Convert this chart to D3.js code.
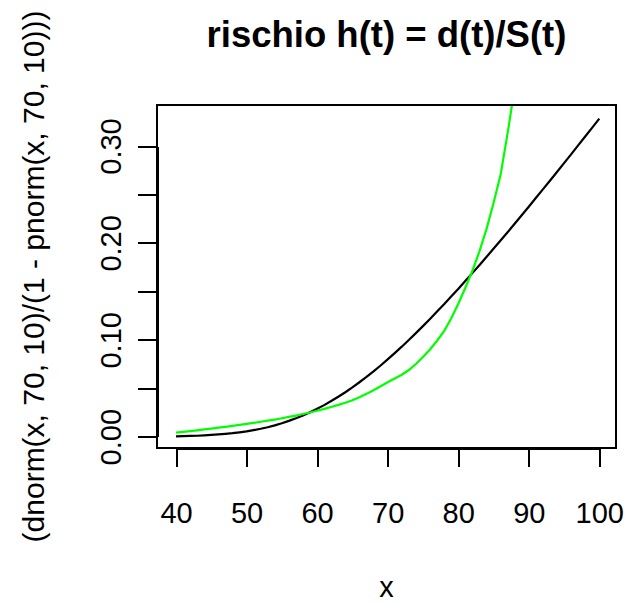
<!DOCTYPE html>
<html>
<head>
<meta charset="utf-8">
<script src="https://cdn.jsdelivr.net/npm/d3@7"></script>
<style>
  html, body { margin: 0; padding: 0; background: #fff; }
  svg { display: block; font-family: "Liberation Sans", Arial, Helvetica, sans-serif; }
</style>
</head>
<body>
<svg id="chart" width="639" height="603"></svg>
<script>
// ---- data ----
const xBlack = [40,41,42,43,44,45,46,47,48,49,50,51,52,53,54,55,56,57,58,59,60,61,62,63,64,65,66,67,68,69,70,
                71,72,73,74,75,76,77,78,79,80,81,82,83,84,85,86,87,88,89,90,91,92,93,94,95,96,97,98,99,100];
const hBlack = [0.0004,0.0006,0.0008,0.0010,0.0014,0.0018,0.0023,0.0029,0.0036,0.0045,0.0055,0.0068,0.0082,0.0098,0.0117,0.0139,
                0.0163,0.0190,0.0219,0.0252,0.0288,0.0326,0.0368,0.0412,0.0459,0.0509,0.0562,0.0617,0.0675,0.0735,0.0798,
                0.0863,0.0929,0.0998,0.1069,0.1141,0.1215,0.1291,0.1367,0.1446,0.1525,0.1606,0.1688,0.1770,0.1854,0.1939,
                0.2024,0.2110,0.2197,0.2285,0.2373,0.2463,0.2552,0.2642,0.2731,0.2823,0.2914,0.3006,0.3098,0.3190,0.3283];
const xGreen = [40,41,42,43,44,45,46,47,48,49,50,51,52,53,54,55,56,57,58,59,60,61,62,63,64,65,66,67,68,69,70,
                71,72,73,74,75,76,77,78,79,80,81,82,83,84,85,86,87,88];
const hGreen = [0.0042,0.0050,0.0058,0.0066,0.0075,0.0084,0.0093,0.0102,0.0112,0.0122,0.0132,0.0143,0.0154,0.0165,0.0177,0.0190,
                0.0204,0.0218,0.0234,0.0250,0.0268,0.0287,0.0307,0.0328,0.0350,0.0377,0.0408,0.0442,0.0480,0.0520,0.0562,
                0.0600,0.0640,0.0688,0.0750,0.0822,0.0900,0.0990,0.1090,0.1220,0.1370,0.1535,0.1710,0.1910,0.2140,0.2410,
                0.2700,0.3130,0.3600];
const xTicks = [40,50,60,70,80,90,100];
const yTicks = [0,0.05,0.10,0.15,0.20,0.25,0.30];
const yLabelTicks = [0,0.10,0.20,0.30];
const titleText = "rischio h(t) = d(t)/S(t)";
const xTitle = "x";
const yTitle = "(dnorm(x, 70, 10)/(1 - pnorm(x, 70, 10)))";

// ---- layout ----
const box = {left: 157, right: 616, top: 105, bottom: 448};
const fs = 29;
const svg = d3.select("#chart");

const x = d3.scaleLinear().domain([40, 100]).range([176, 599.3]);
const y = d3.scaleLinear().domain([0, 0.30]).range([436.7, 146]);

// clip path for plot region
svg.append("defs").append("clipPath").attr("id", "plotclip")
  .append("rect").attr("x", box.left).attr("y", box.top)
  .attr("width", box.right - box.left).attr("height", box.bottom - box.top);

// curves
const line = d3.line().x(d => x(d[0])).y(d => y(d[1]));
const g = svg.append("g").attr("clip-path", "url(#plotclip)");
g.append("path")
  .attr("d", line(xBlack.map((v, i) => [v, hBlack[i]])))
  .attr("fill", "none").attr("stroke", "#000").attr("stroke-width", 2.2);
g.append("path")
  .attr("d", line(xGreen.map((v, i) => [v, hGreen[i]])))
  .attr("fill", "none").attr("stroke", "#00ff00").attr("stroke-width", 2.2);

// box
svg.append("rect")
  .attr("x", box.left).attr("y", box.top)
  .attr("width", box.right - box.left).attr("height", box.bottom - box.top)
  .attr("fill", "none").attr("stroke", "#000").attr("stroke-width", 2)
  .attr("shape-rendering", "crispEdges");

// x axis
const xAxis = svg.append("g").attr("transform", `translate(0,${box.bottom})`)
  .call(d3.axisBottom(x).tickValues(xTicks).tickSize(19).tickSizeOuter(0).tickPadding(35.9).tickFormat(d3.format("d")));
xAxis.selectAll("path, line").attr("stroke", "#000").attr("stroke-width", 2).attr("shape-rendering", "crispEdges");
xAxis.selectAll("text").attr("font-size", fs).attr("fill", "#000")
  .attr("font-family", "'Liberation Sans', Arial, sans-serif");

// y axis
const yAxis = svg.append("g").attr("transform", `translate(${box.left},0)`)
  .call(d3.axisLeft(y).tickValues(yTicks).tickSize(19).tickSizeOuter(0)
    .tickFormat(d => yLabelTicks.some(v => Math.abs(v - d) < 1e-9) ? d3.format(".2f")(d) : ""));
yAxis.selectAll("path, line").attr("stroke", "#000").attr("stroke-width", 2).attr("shape-rendering", "crispEdges");
yAxis.selectAll("text")
  .attr("x", null).attr("dy", null)
  .attr("transform", "translate(-36.5,0) rotate(-90)")
  .attr("text-anchor", "middle")
  .attr("font-size", fs).attr("fill", "#000")
  .attr("font-family", "'Liberation Sans', Arial, sans-serif");

// titles
svg.append("text").attr("x", (box.left + box.right) / 2).attr("y", 47)
  .attr("text-anchor", "middle").attr("font-size", 36.5).attr("font-weight", "bold")
  .text(titleText);
svg.append("text").attr("x", 386.5).attr("y", 596.5)
  .attr("text-anchor", "middle").attr("font-size", fs).text(xTitle);
svg.append("text").attr("transform", `translate(44,${(box.top + box.bottom) / 2}) rotate(-90)`)
  .attr("text-anchor", "middle").attr("font-size", 30).text(yTitle);
</script>
</body>
</html>
